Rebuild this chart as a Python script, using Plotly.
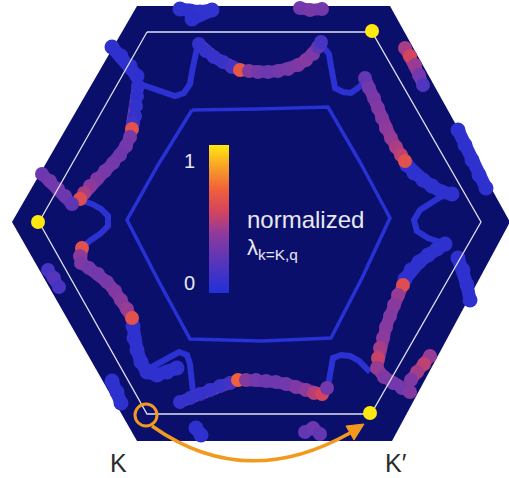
import plotly.graph_objects as go

# image-style coordinates (x to the right, y downwards)

# Brillouin zone outline (dark fill) and the white reference hexagon
ZONE_X = [137, 390, 510, 392, 137, 12, 137]
ZONE_Y = [6, 6, 222, 441, 441, 222, 6]
WHITE_X = [147, 372, 481, 371, 147, 39, 147]
WHITE_Y = [32, 32, 222, 414, 414, 222, 32]

# inner Fermi pocket (nearly uniform, lambda ~ 0)
INNER_X = [192, 258, 328, 360, 390, 362, 331, 262, 190, 158, 127, 158, 192]
INNER_Y = [110, 109, 107, 162, 218, 278, 338, 341, 339, 280, 220, 165, 110]
INNER_LAM = 0.03

# K' hot spots (lambda = 1)
HOT_X = [372, 38, 370]
HOT_Y = [31, 222, 413]
HOT_LAM = [1.0, 1.0, 1.0]

# thick outer bands: (x, y, lambda)
TOP_ARC = [(199, 44, .08), (206, 51, .08), (214, 57, .09), (223, 62, .1), (232, 67, .14),
           (240, 70, .65), (249, 71, .36), (258, 72, .3), (268, 72, .28), (278, 71, .3),
           (288, 69, .32), (298, 65, .35), (306, 60, .37), (313, 54, .34), (318, 47, .24),
           (321, 42, .15)]
UL_ARC = [(138, 86, .06), (137, 96, .06), (136, 106, .07), (135, 116, .08), (133, 123, .12),
          (132, 129, .62), (130, 137, .32), (126, 146, .3), (120, 155, .29), (113, 163, .3),
          (105, 171, .32), (97, 179, .35), (90, 186, .4), (84, 193, .46), (80, 199, .6)]
LL_ARC = [(82, 248, .62), (80, 256, .4), (81, 263, .35), (89, 268, .3), (98, 274, .3),
          (107, 282, .32), (115, 291, .35), (121, 300, .38), (127, 309, .42), (132, 318, .62)]
BOTTOM_ARC = [(180, 402, .08), (190, 398, .08), (200, 394, .08), (210, 390, .09), (220, 386, .1),
              (230, 383, .13), (238, 380, .7), (246, 380, .36), (256, 380, .3), (266, 381, .28),
              (276, 382, .28), (286, 384, .3), (296, 387, .35), (306, 390, .4), (314, 393, .48),
              (322, 394, .55), (327, 388, .3)]
LR_ARC = [(403, 285, .6), (398, 295, .42), (394, 305, .38), (390, 316, .36), (386, 327, .37),
          (383, 338, .4), (380, 348, .45), (378, 358, .52), (377, 368, .42), (384, 377, .35),
          (393, 383, .3), (402, 388, .3), (410, 392, .36)]
UR_ARC = [(365, 78, .25), (369, 88, .3), (374, 98, .33), (378, 108, .35), (382, 118, .37),
          (386, 128, .4), (391, 138, .42), (396, 147, .46), (401, 155, .5), (405, 161, .62)]

# bands near the zone edge
TOP_OUT_LEFT = [(180, 9, .06), (190, 11, .06), (200, 12, .07), (212, 10, .07), (192, 19, .06)]
TOP_OUT_RIGHT = [(300, 8, .3), (310, 10, .32), (322, 9, .3)]
TL_OUT = [(112, 47, .06), (121, 56, .06), (130, 66, .06), (137, 76, .06)]
L_EDGE = [(42, 174, .28), (50, 181, .3), (58, 189, .3), (65, 196, .28), (72, 204, .24)]
L_OUT_LOW = [(48, 270, .15), (54, 278, .2), (59, 287, .15)]
LL_DOWN = [(133, 326, .06), (134, 338, .06), (137, 350, .06), (141, 362, .06), (147, 372, .06),
           (157, 375, .06), (167, 372, .06), (177, 368, .06)]
BL_OUT = [(112, 381, .06), (117, 392, .06), (121, 403, .06)]
BOTTOM_OUT_LEFT = [(196, 428, .06), (201, 435, .06)]
BOTTOM_OUT_RIGHT = [(305, 432, .25), (313, 428, .28), (320, 434, .25)]
R_EDGE_LOW = [(430, 356, .42), (424, 364, .5), (417, 372, .45), (411, 380, .35)]
R_BLUE_LOW = [(405, 279, .06), (411, 270, .06), (419, 262, .06), (428, 255, .06),
              (437, 249, .06), (445, 244, .06)]
R_BLUE_UP = [(407, 165, .06), (414, 173, .06), (423, 180, .06), (432, 186, .06),
             (442, 192, .06), (452, 194, .06)]
R_OUT_UP = [(405, 48, .45), (410, 56, .55), (415, 65, .42), (419, 75, .3), (423, 85, .18)]
R_OUT_BLUE = [(458, 130, .06), (465, 145, .06), (472, 160, .06), (479, 175, .06), (486, 188, .06)]
R_OUT_BLUE2 = [(458, 258, .06), (463, 270, .06), (467, 285, .06), (470, 300, .06)]

# thin zig-zag connectors (lambda ~ 0.05)
CONNECT_LAM = 0.05
TL_CONNECT = [(197, 48), (194, 60), (192, 72), (190, 84), (184, 93), (175, 96), (165, 93),
              (155, 89), (146, 86), (140, 84)]
TR_CONNECT = [(322, 45), (329, 54), (331, 66), (333, 78), (335, 88), (343, 92), (351, 93),
              (358, 88), (364, 82)]
L_CONNECT = [(82, 201), (92, 204), (101, 209), (108, 216), (108, 226), (100, 234), (91, 240),
             (84, 246)]
BL_CONNECT = [(150, 368), (160, 362), (170, 356), (179, 352), (187, 355), (190, 364),
              (191, 374), (192, 384), (193, 392)]
BR_CONNECT = [(328, 386), (330, 376), (331, 366), (333, 358), (341, 355), (350, 356),
              (359, 361), (365, 368), (370, 372)]
R_CONNECT = [(442, 196), (430, 203), (420, 210), (414, 220), (417, 231), (428, 238), (440, 242)]

# K -> K' arrow
K_CIRCLE = (146, 415, 11)
ARROW_START = (152, 426)
ARROW_CTRL = (245, 492)
ARROW_END = (350, 433)
ARROW_TIP = (364, 424)
HEAD_BASE = [(354, 440), (346, 426)]

COLORSCALE = [[0.0, '#1f30d8'], [0.2, '#5535bb'], [0.4, '#8e3a9c'], [0.55, '#d4445e'],
              [0.7, '#f0603a'], [0.85, '#f8a026'], [1.0, '#ffe80f']]
NAVY = '#0b0f6c'
ORANGE = '#f39a1e'


def lam_color(v):
    for (a, ca), (b, cb) in zip(COLORSCALE, COLORSCALE[1:]):
        if v <= b:
            t = (v - a) / (b - a)
            c1 = [int(ca[i:i + 2], 16) for i in (1, 3, 5)]
            c2 = [int(cb[i:i + 2], 16) for i in (1, 3, 5)]
            c = [round(p + (q - p) * t) for p, q in zip(c1, c2)]
            return 'rgb(%d,%d,%d)' % tuple(c)
    return COLORSCALE[-1][1]


fig = go.Figure()

fig.add_trace(go.Scatter(x=ZONE_X, y=ZONE_Y, mode='lines', fill='toself', fillcolor=NAVY,
                         line=dict(width=0), hoverinfo='skip', showlegend=False))

fig.add_trace(go.Scatter(x=INNER_X, y=INNER_Y, mode='lines',
                         line=dict(color=lam_color(INNER_LAM), width=3.5),
                         hoverinfo='skip', showlegend=False))

thick = [TOP_ARC, UL_ARC, LL_ARC, BOTTOM_ARC, LR_ARC, UR_ARC,
         TOP_OUT_RIGHT, L_EDGE, L_OUT_LOW, BOTTOM_OUT_RIGHT, R_EDGE_LOW, R_OUT_UP]
blue = [TOP_OUT_LEFT, TL_OUT, LL_DOWN, BL_OUT, BOTTOM_OUT_LEFT, R_BLUE_LOW, R_BLUE_UP,
        R_OUT_BLUE, R_OUT_BLUE2]
thin = [TL_CONNECT, TR_CONNECT, L_CONNECT, BL_CONNECT, BR_CONNECT, R_CONNECT]

for band in thin:
    fig.add_trace(go.Scatter(x=[p[0] for p in band], y=[p[1] for p in band], mode='lines',
                             line=dict(color=lam_color(CONNECT_LAM), width=6),
                             hoverinfo='skip', showlegend=False))

for group, w in ((blue, 15), (thick, 14)):
    for band in group:
        lams = [p[2] for p in band]
        mid = sorted(lams)[len(lams) // 2]
        fig.add_trace(go.Scatter(
            x=[p[0] for p in band], y=[p[1] for p in band], mode='lines+markers',
            line=dict(color=lam_color(mid), width=w - 2),
            marker=dict(color=lams, coloraxis='coloraxis', size=w, symbol='circle',
                        line=dict(width=0)),
            hoverinfo='skip', showlegend=False))

fig.add_trace(go.Scatter(x=WHITE_X, y=WHITE_Y, mode='lines',
                         line=dict(color='#dedff0', width=1.3),
                         hoverinfo='skip', showlegend=False))

fig.add_trace(go.Scatter(x=HOT_X, y=HOT_Y, mode='markers',
                         marker=dict(color=HOT_LAM, coloraxis='coloraxis', size=14,
                                     symbol='circle', line=dict(width=0)),
                         hoverinfo='skip', showlegend=False))

cx, cy, r = K_CIRCLE
fig.add_shape(type='circle', xref='x', yref='y', x0=cx - r, x1=cx + r, y0=cy - r, y1=cy + r,
              line=dict(color=ORANGE, width=3))
fig.add_shape(type='path', xref='x', yref='y',
              path='M %d,%d Q %d,%d %d,%d' % (ARROW_START + ARROW_CTRL + ARROW_END),
              line=dict(color=ORANGE, width=3.5))
fig.add_shape(type='path', xref='x', yref='y',
              path='M %d,%d L %d,%d L %d,%d Z' % (ARROW_TIP + HEAD_BASE[0] + HEAD_BASE[1]),
              fillcolor=ORANGE, line=dict(color=ORANGE, width=1))

txt = '#e8e8f0'
fig.add_annotation(x=189, y=161, text='1', showarrow=False, font=dict(size=20, color=txt))
fig.add_annotation(x=189, y=283, text='0', showarrow=False, font=dict(size=20, color=txt))
fig.add_annotation(x=245, y=219, text='normalized', showarrow=False, xanchor='left',
                   font=dict(size=24, color=txt))
fig.add_annotation(x=245, y=249, text='λ<sub>k=K,q</sub>', showarrow=False, xanchor='left',
                   font=dict(size=22, color=txt))
fig.add_annotation(x=118, y=463, text='K', showarrow=False, font=dict(size=25, color='#2a2a2a'))
fig.add_annotation(x=396, y=463, text='K′', showarrow=False, font=dict(size=25, color='#2a2a2a'))

W, H = 509, 478
fig.update_layout(
    width=W, height=H,
    margin=dict(l=0, r=0, t=0, b=0),
    paper_bgcolor='white', plot_bgcolor='white',
    font=dict(family='Liberation Sans, Arial, sans-serif'),
    xaxis=dict(range=[0, W], visible=False, fixedrange=True),
    yaxis=dict(range=[H, 0], visible=False, fixedrange=True),
    coloraxis=dict(
        colorscale=COLORSCALE, cmin=0, cmax=1,
        colorbar=dict(x=209 / W, xanchor='left', y=1 - 219 / H, yanchor='middle',
                      len=148 / H, lenmode='fraction', thickness=20, thicknessmode='pixels',
                      outlinewidth=0, showticklabels=False, ticks='', xpad=0, ypad=0),
    ),
)

# drop the browser's default page margin so the figure sits at the window corner
fig.write_html('out.html', config={'displayModeBar': False},
               post_script="document.body.style.margin='0';")
